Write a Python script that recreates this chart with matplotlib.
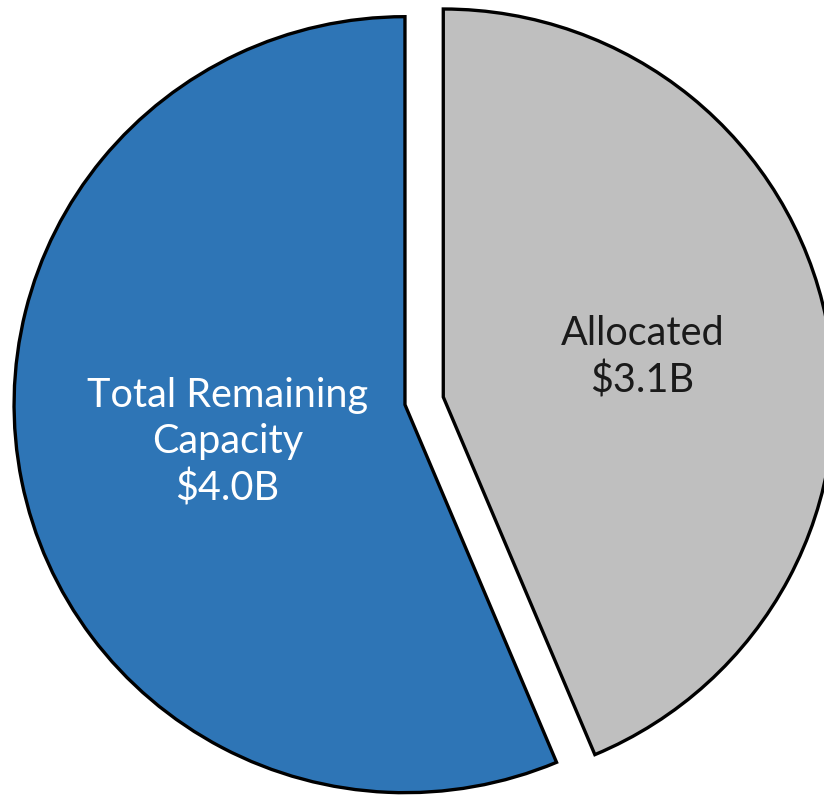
import matplotlib
matplotlib.use("Agg")
import matplotlib.pyplot as plt

# slices, clockwise from 12 o'clock
labels = ["Allocated\n$3.1B", "Total Remaining\nCapacity\n$4.0B"]
values = [3.1, 4.0]
colors = ["#BFBFBF", "#2E75B6"]
text_colors = ["#1A1A1A", "white"]
explode = [0.1, 0.0]

fig = plt.figure(figsize=(8.24, 7.95), dpi=100)
ax = fig.add_axes([0, 0, 1, 1])

wedges, texts = ax.pie(values, labels=labels, colors=colors, explode=explode,
                       startangle=90, counterclock=False, labeldistance=0.52,
                       wedgeprops=dict(edgecolor="black", linewidth=2.4,
                                       joinstyle="miter"))

for t, c in zip(texts, text_colors):
    t.set_color(c)
    t.set_ha("center")
    t.set_va("center")
    t.set_fontsize(28.5)
    t.set_fontfamily("Lato")
    t.set_linespacing(1.3)

# blue label sits a bit closer to the centre in the original
x, y = texts[1].get_position()
texts[1].set_position((x + 0.055, y + 0.005))

# the original is very slightly wider than tall
ax.set_aspect("auto")
ax.set_xlim(-1.036, 1.072)
ax.set_ylim(-1.006, 1.043)
ax.axis("off")

fig.savefig("out.png", dpi=100)
